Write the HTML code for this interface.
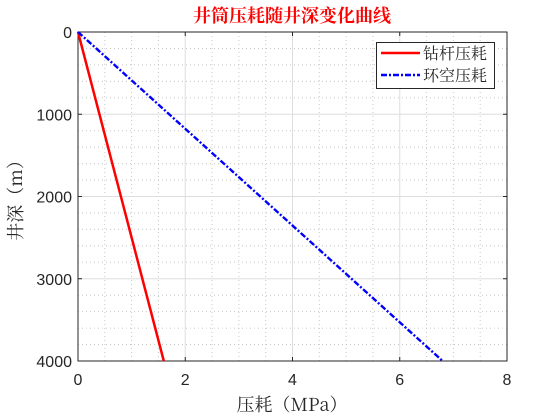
<!DOCTYPE html>
<html><head><meta charset="utf-8"><style>
body{margin:0;background:#fff}
svg{display:block;font-family:"Liberation Sans","Noto Sans CJK SC",sans-serif}
</style></head><body>
<svg id="c" width="560" height="420"></svg>
<script>
const xTicks=[0,2,4,6,8];
const yTicks=[0,1000,2000,3000,4000];
const depth=[0,4000];
const drillPipe=[0,1.6];
const annulus=[0,6.8];
const L=78,R=507,T=32,B=361;
const sx=v=>L+(v-0)/(8-0)*(R-L);
const sy=v=>T+v/4000*(B-T);
const svg=document.getElementById('c');
const NS='http://www.w3.org/2000/svg';
function el(t,a,txt){const e=document.createElementNS(NS,t);for(const k in a)e.setAttribute(k,a[k]);if(txt!==undefined)e.textContent=txt;svg.appendChild(e);return e;}
let e=el('rect',{x:L,y:T,width:R-L,height:B-T,fill:'#fff'});


for(let v=0.5;v<8;v+=0.5){if(v%2===0)continue;e=el('line',{x1:sx(v),x2:sx(v),y1:T,y2:B,stroke:'#c8c8c8','stroke-width':1,'stroke-dasharray':'1 3'});

}
for(let v=200;v<4000;v+=200){if(v%1000===0)continue;e=el('line',{x1:L,x2:R,y1:sy(v),y2:sy(v),stroke:'#c8c8c8','stroke-width':1,'stroke-dasharray':'1 3'});

}
xTicks.forEach(v=>{e=el('line',{x1:sx(v),x2:sx(v),y1:T,y2:B,stroke:'#dedede'});


e=el('text',{x:sx(v),y:B+24,'text-anchor':'middle','font-size':16,fill:'#262626'},v);


el('line',{x1:sx(v),x2:sx(v),y1:B,y2:B-4,stroke:'#262626'});el('line',{x1:sx(v),x2:sx(v),y1:T,y2:T+4,stroke:'#262626'});});
yTicks.forEach(v=>{e=el('line',{x1:L,x2:R,y1:sy(v),y2:sy(v),stroke:'#dedede'});


e=el('text',{x:L-6,y:sy(v)+6,'text-anchor':'end','font-size':16,fill:'#262626'},v);


el('line',{x1:L,x2:L+4,y1:sy(v),y2:sy(v),stroke:'#262626'});el('line',{x1:R,x2:R-4,y1:sy(v),y2:sy(v),stroke:'#262626'});});
e=el('rect',{x:L,y:T,width:R-L,height:B-T,fill:'none',stroke:'#262626','stroke-width':1});


e=el('polyline',{points:depth.map((d,i)=>sx(drillPipe[i])+','+sy(d)).join(' '),fill:'none',stroke:'#f00','stroke-width':2.5});


e=el('polyline',{points:depth.map((d,i)=>sx(annulus[i])+','+sy(d)).join(' '),fill:'none',stroke:'#00f','stroke-width':2.4,'stroke-dasharray':'6 2 2 2'});


e=el('rect',{x:376.5,y:42.5,width:118,height:46,fill:'#fff',stroke:'#262626'});


el('line',{x1:381,x2:420,y1:53,y2:53,stroke:'#f00','stroke-width':2.5});
e=el('text',{x:423,y:59,'font-size':16,fill:'#262626','font-family':'"Noto Serif CJK SC",serif'},'钻杆压耗');


el('line',{x1:381,x2:420,y1:75,y2:75,stroke:'#00f','stroke-width':2.4,'stroke-dasharray':'6 2 2 2'});
e=el('text',{x:423,y:81,'font-size':16,fill:'#262626','font-family':'"Noto Serif CJK SC",serif'},'环空压耗');


e=el('text',{x:292,y:22,'text-anchor':'middle','font-size':18,'font-weight':'bold',fill:'#f00','font-family':'"Noto Serif CJK SC",serif'},'井筒压耗随井深变化曲线');


e=el('text',{x:292,y:411,'text-anchor':'middle','font-size':18,fill:'#262626','font-family':'"Noto Serif CJK SC",serif'},'压耗（MPa）');


e=el('text',{x:0,y:0,'text-anchor':'middle','font-size':18,fill:'#262626','font-family':'"Noto Serif CJK SC",serif',transform:'translate(22,196) rotate(-90)'},'井深（m）');


</script>
</body></html>
